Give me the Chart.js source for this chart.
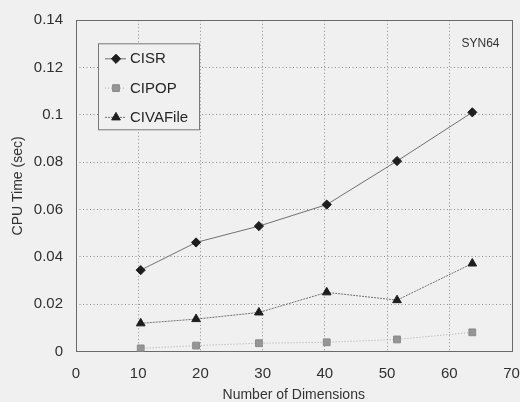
<!DOCTYPE html>
<html>
<head>
<meta charset="utf-8">
<title>CPU Time vs Number of Dimensions</title>
<script src="https://cdn.jsdelivr.net/npm/chart.js@4/dist/chart.umd.min.js"></script>
<style>
  html, body { margin: 0; padding: 0; background: #f0f0f0; }
  #wrap { width: 520px; height: 402px; position: relative; }
</style>
</head>
<body>
<div id="wrap"><canvas id="chart" width="520" height="402"></canvas></div>
<script>
// Number of dimensions for each measurement
const dimensions = [10.4, 19.3, 29.4, 40.3, 51.6, 63.7];
// CPU time in seconds per method
const cisrTimes = [0.0344, 0.0461, 0.0530, 0.0621, 0.0805, 0.1011];
const cipopTimes = [0.0013, 0.0025, 0.0035, 0.0039, 0.0051, 0.0081];
const civaFileTimes = [0.0119, 0.0137, 0.0165, 0.0250, 0.0217, 0.0372];
// Axis ranges / ticks
const xTicks = [0, 10, 20, 30, 40, 50, 60, 70];
const yTicks = [0, 0.02, 0.04, 0.06, 0.08, 0.1, 0.12, 0.14];
const datasetLabel = 'SYN64';

const FONT = '"Liberation Sans", Arial, Helvetica, sans-serif';
const BG = '#f0f0f0';

function pts(ys) { return dimensions.map((x, i) => ({ x, y: ys[i] })); }

const series = [
  { label: 'CISR', data: pts(cisrTimes), borderColor: '#707070', borderWidth: 1,
    borderDash: [], pointStyle: 'rectRot', pointRadius: 4.6,
    pointBackgroundColor: '#1e1e1e', pointBorderColor: '#1e1e1e' },
  { label: 'CIPOP', data: pts(cipopTimes), borderColor: '#a8a8a8', borderWidth: 1,
    borderDash: [1, 2], pointStyle: 'rect', pointRadius: 4.8,
    pointBackgroundColor: '#959595', pointBorderColor: '#8a8a8a' },
  { label: 'CIVAFile', data: pts(civaFileTimes), borderColor: '#707070', borderWidth: 1,
    borderDash: [2, 1], pointStyle: 'triangle', pointRadius: 5,
    pointBackgroundColor: '#1e1e1e', pointBorderColor: '#1e1e1e' }
];

function drawMarker(ctx, ds, x, y) {
  const opts = { pointStyle: ds.pointStyle, radius: ds.pointRadius, rotation: 0, borderWidth: 1 };
  ctx.save();
  ctx.fillStyle = ds.pointBackgroundColor;
  ctx.strokeStyle = ds.pointBorderColor;
  ctx.lineWidth = 1;
  if (Chart.helpers && Chart.helpers.drawPoint) {
    Chart.helpers.drawPoint(ctx, opts, x, y);
  }
  ctx.restore();
}

// Frame around the plot area, the in-plot legend box and the dataset tag
const decorations = {
  id: 'decorations',
  beforeDatasetsDraw(chart) {
    const { ctx, chartArea: a } = chart;
    ctx.save();
    ctx.strokeStyle = '#6a6a6a';
    ctx.lineWidth = 1;
    ctx.strokeRect(Math.round(a.left) + 0.5, Math.round(a.top) + 0.5,
      Math.round(a.right - a.left), Math.round(a.bottom - a.top));
    ctx.restore();
  },
  afterDatasetsDraw(chart) {
    const { ctx, chartArea: a } = chart;
    ctx.save();
    // legend box
    const bx = a.left + 22, by = a.top + 23, bw = 101, bh = 86;
    ctx.fillStyle = BG;
    ctx.fillRect(bx, by, bw, bh);
    ctx.strokeStyle = '#7a7a7a';
    ctx.lineWidth = 1;
    ctx.strokeRect(bx + 0.5, by + 0.5, bw, bh);
    ctx.font = '15px ' + FONT;
    ctx.textBaseline = 'middle';
    ctx.textAlign = 'left';
    series.forEach((ds, i) => {
      const y = by + 15.5 + i * 29.3;
      ctx.save();
      ctx.strokeStyle = ds.borderColor;
      ctx.lineWidth = ds.borderWidth;
      ctx.setLineDash(ds.borderDash);
      ctx.beginPath();
      ctx.moveTo(bx + 7, y);
      ctx.lineTo(bx + 28, y);
      ctx.stroke();
      ctx.restore();
      drawMarker(ctx, ds, bx + 18, y);
      ctx.fillStyle = '#262626';
      ctx.fillText(ds.label, bx + 32, y + 0.5);
    });
    // dataset tag
    ctx.font = '12px ' + FONT;
    ctx.fillStyle = '#333333';
    ctx.textAlign = 'right';
    ctx.fillText(datasetLabel, a.right - 12, a.top + 23.5);
    ctx.restore();
  }
};

function edgeTransparent(min, max) {
  return (c) => (c.tick && (Math.abs(c.tick.value - min) < 1e-9 || Math.abs(c.tick.value - max) < 1e-9))
    ? 'rgba(0,0,0,0)' : '#8c8c8c';
}

new Chart(document.getElementById('chart'), {
  type: 'line',
  data: { datasets: series.map(s => Object.assign({ fill: false, tension: 0 }, s)) },
  plugins: [decorations],
  options: {
    responsive: false,
    animation: false,
    layout: { padding: { left: 0, right: 8.5, top: 20.3, bottom: 0 } },
    plugins: { legend: { display: false }, tooltip: { enabled: false } },
    scales: {
      x: {
        type: 'linear', min: xTicks[0], max: xTicks[xTicks.length - 1],
        afterBuildTicks: (s) => { s.ticks = xTicks.map(v => ({ value: v })); },
        afterFit: (s) => { s.height = 50.5; s.paddingLeft = 0; s.paddingRight = 0; },
        grid: { color: edgeTransparent(0, 70), lineWidth: 1, drawTicks: false },
        border: { display: false, dash: [1, 2.5] },
        ticks: { color: '#303030', font: { family: FONT, size: 15 }, padding: 13.5, maxRotation: 0,
          callback: (v) => String(v) },
        title: { display: true, text: 'Number of Dimensions', color: '#333333',
          font: { family: FONT, size: 14 }, padding: { top: 0, bottom: -2 } }
      },
      y: {
        type: 'linear', min: yTicks[0], max: yTicks[yTicks.length - 1],
        afterBuildTicks: (s) => { s.ticks = yTicks.map(v => ({ value: v })); },
        afterFit: (s) => { s.width = 76; s.paddingTop = 0; s.paddingBottom = 0; },
        grid: { color: edgeTransparent(0, 0.14), lineWidth: 1, drawTicks: false },
        border: { display: false, dash: [1, 2.5] },
        ticks: { color: '#303030', font: { family: FONT, size: 15 }, padding: 13,
          callback: (v) => String(Number(v.toFixed(2))) },
        title: { display: true, text: 'CPU Time (sec)', color: '#333333',
          font: { family: FONT, size: 14 }, padding: { top: 10, bottom: 0 } }
      }
    }
  }
});
</script>
</body>
</html>
